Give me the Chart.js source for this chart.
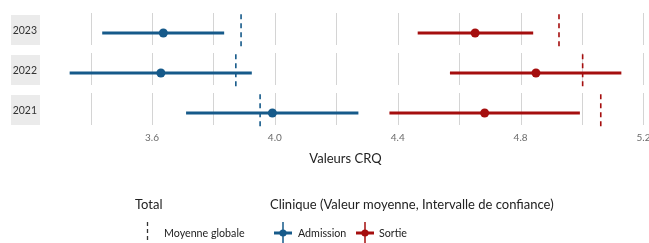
<!DOCTYPE html>
<html><head><meta charset="utf-8">
<script src="https://cdn.jsdelivr.net/npm/chart.js@4/dist/chart.umd.min.js"></script>
<style>html,body{margin:0;padding:0;background:#fff;}#wrap{position:relative;width:649px;height:243px;}</style>
</head><body><div id="wrap"><canvas id="c" width="649" height="243"></canvas></div>
<script>
// ---- data ----
const years = ['2023', '2022', '2021'];
const rowPos = [3, 2, 1];
const admMean = [3.637, 3.629, 3.992];
const admLow = [3.438, 3.332, 3.711];
const admHigh = [3.835, 3.925, 4.272];
const admGlobal = [3.890, 3.873, 3.952];
const sorMean = [4.652, 4.850, 4.683];
const sorLow = [4.465, 4.570, 4.373];
const sorHigh = [4.841, 5.128, 4.993];
const sorGlobal = [4.925, 5.002, 5.061];
const labeledTicks = [3.6, 4.0, 4.4, 4.8, 5.2];
const axisTitle = 'Valeurs CRQ';
const legendTitles = ['Total', 'Clinique (Valeur moyenne, Intervalle de confiance)'];
const legendLabels = ['Moyenne globale', 'Admission', 'Sortie'];

const BLUE = '#165a8a';
const RED = '#a50e0e';
const FONT = 'Lato';
Chart.defaults.font.family = FONT;

const PANEL_UP = 0.5, PANEL_DOWN = 0.3;

const datasets = [];
function addSeries(low, high, mean, glob, color) {
  rowPos.forEach((r, i) => {
    datasets.push({ type: 'line', data: [{x: low[i], y: r}, {x: high[i], y: r}],
      borderColor: color, borderWidth: 3, pointRadius: 0, borderCapStyle: 'butt' });
    datasets.push({ type: 'line', data: [{x: glob[i], y: r + PANEL_UP - 0.03}, {x: glob[i], y: r - PANEL_DOWN - 0.03}],
      borderColor: color, borderWidth: 1.6, borderDash: [5, 4], pointRadius: 0 });
  });
  datasets.push({ type: 'scatter', data: rowPos.map((r, i) => ({x: mean[i], y: r})),
    backgroundColor: color, borderWidth: 0, pointRadius: 4.5 });
}
addSeries(admLow, admHigh, admMean, admGlobal, BLUE);
addSeries(sorLow, sorHigh, sorMean, sorGlobal, RED);

const panelGrid = {
  id: 'panelGrid',
  beforeDraw(chart) {
    const {ctx, scales: {y}} = chart;
    ctx.save();
    ctx.fillStyle = '#ebebeb';
    rowPos.forEach(r => {
      const py = y.getPixelForValue(r);
      ctx.fillRect(11, py - 18, 29, 30);
    });
    ctx.restore();
  },
  beforeDatasetsDraw(chart) {
    const {ctx, scales: {x, y}} = chart;
    ctx.save();
    ctx.strokeStyle = '#d4d4d4';
    ctx.lineWidth = 1;
    x.ticks.forEach(t => {
      const px = Math.round(x.getPixelForValue(t.value)) + 0.5;
      rowPos.forEach(r => {
        ctx.beginPath();
        ctx.moveTo(px, y.getPixelForValue(r + PANEL_UP));
        ctx.lineTo(px, y.getPixelForValue(r - PANEL_DOWN));
        ctx.stroke();
      });
    });
    ctx.restore();
  }
};

const legendPlugin = {
  id: 'customLegend',
  afterDraw(chart) {
    const ctx = chart.ctx;
    ctx.save();
    ctx.textBaseline = 'middle';
    ctx.fillStyle = '#222';
    ctx.font = '13px ' + FONT;
    ctx.fillText(legendTitles[0], 135, 205);
    ctx.fillText(legendTitles[1], 270, 205);
    ctx.font = '10.7px ' + FONT;
    ctx.strokeStyle = '#333'; ctx.lineWidth = 1.3; ctx.setLineDash([4, 3]);
    ctx.beginPath(); ctx.moveTo(147.5, 222); ctx.lineTo(147.5, 244); ctx.stroke();
    ctx.setLineDash([]);
    ctx.fillText(legendLabels[0], 164, 234);
    function icon(cx, color) {
      ctx.strokeStyle = color; ctx.fillStyle = color;
      ctx.lineWidth = 3;
      ctx.beginPath(); ctx.moveTo(cx - 9, 233); ctx.lineTo(cx + 9, 233); ctx.stroke();
      ctx.lineWidth = 1.5;
      ctx.beginPath(); ctx.moveTo(cx, 222); ctx.lineTo(cx, 244); ctx.stroke();
      ctx.beginPath(); ctx.arc(cx, 233, 3.6, 0, Math.PI * 2); ctx.fill();
    }
    icon(283, BLUE);
    ctx.fillStyle = '#222';
    ctx.fillText(legendLabels[1], 298, 234);
    icon(365, RED);
    ctx.fillStyle = '#222';
    ctx.fillText(legendLabels[2], 379, 234);
    ctx.restore();
  }
};

new Chart(document.getElementById('c'), {
  type: 'scatter',
  data: { datasets },
  options: {
    responsive: false, animation: false,
    layout: { autoPadding: false, padding: { top: 13, left: 0, right: 0, bottom: 76 } },
    plugins: { legend: { display: false }, tooltip: { enabled: false } },
    scales: {
      x: {
        type: 'linear', min: 3.242, max: 5.218,
        grid: { display: false, drawTicks: false }, border: { display: false },
        ticks: {
          stepSize: 0.2, includeBounds: false, padding: 3, color: '#6b6b6b', font: { size: 10 },
          autoSkip: false, maxRotation: 0,
          callback: v => labeledTicks.some(t => Math.abs(t - v) < 1e-6) ? v.toFixed(1) : ''
        },
        title: { display: true, text: axisTitle, color: '#222', font: { size: 13 }, padding: { top: 6, bottom: 0 } },
        afterFit(s) { s.paddingLeft = 0; s.paddingRight = 0; s.height = 38; }
      },
      y: {
        type: 'linear', min: 0.6, max: 3.5,
        grid: { display: false, drawTicks: false }, border: { display: false },
        ticks: {
          stepSize: 1, includeBounds: false, padding: 5, color: '#333', font: { size: 10.5 },
          labelOffset: -2,
          callback: v => { const i = rowPos.indexOf(v); return i >= 0 ? years[i] : ''; }
        },
        afterFit(s) { s.paddingTop = 0; s.paddingBottom = 0; s.width = 42; }
      }
    }
  },
  plugins: [panelGrid, legendPlugin]
});
</script></body></html>
